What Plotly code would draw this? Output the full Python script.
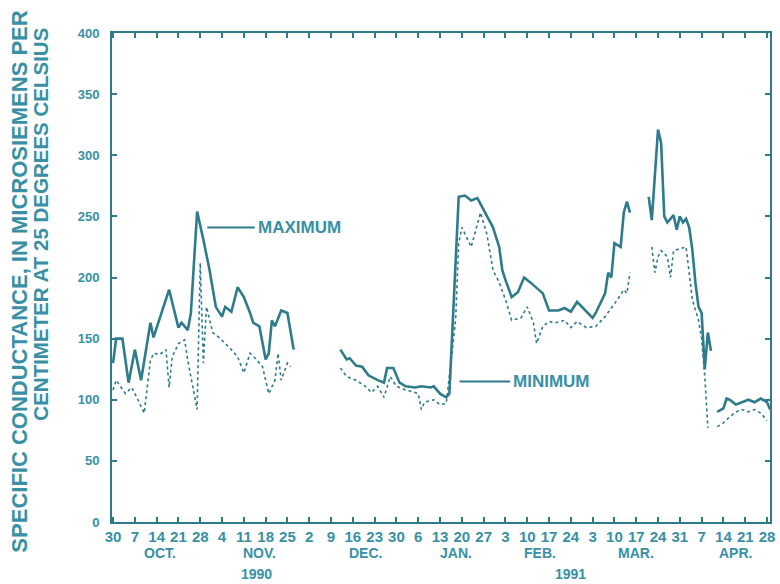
import plotly.graph_objects as go

# ---- data ----
max_dates = [
    "1990-09-30", "1990-10-01", "1990-10-03", "1990-10-05", "1990-10-07", "1990-10-09",
    "1990-10-12", "1990-10-13", "1990-10-18", "1990-10-21", "1990-10-22", "1990-10-24",
    "1990-10-25", "1990-10-27", "1990-10-29", "1990-10-31", "1990-11-02", "1990-11-04",
    "1990-11-05", "1990-11-07", "1990-11-09", "1990-11-11", "1990-11-13", "1990-11-14",
    "1990-11-16", "1990-11-18", "1990-11-19", "1990-11-20", "1990-11-21", "1990-11-23",
    "1990-11-25", "1990-11-27",
    "1990-12-05",
    "1990-12-12", "1990-12-14", "1990-12-15", "1990-12-17", "1990-12-19", "1990-12-21",
    "1990-12-24", "1990-12-26", "1990-12-27", "1990-12-29", "1990-12-31", "1991-01-02",
    "1991-01-05", "1991-01-07", "1991-01-10", "1991-01-11", "1991-01-13", "1991-01-15",
    "1991-01-16", "1991-01-18", "1991-01-19", "1991-01-21", "1991-01-23", "1991-01-25",
    "1991-01-27", "1991-01-30", "1991-02-01", "1991-02-02", "1991-02-03", "1991-02-05",
    "1991-02-07", "1991-02-09", "1991-02-11", "1991-02-15", "1991-02-17", "1991-02-20",
    "1991-02-22", "1991-02-24", "1991-02-26", "1991-03-02", "1991-03-03", "1991-03-04",
    "1991-03-06", "1991-03-07", "1991-03-08", "1991-03-09", "1991-03-10", "1991-03-12",
    "1991-03-13", "1991-03-14", "1991-03-15",
    "1991-03-18",
    "1991-03-21", "1991-03-22", "1991-03-24", "1991-03-25", "1991-03-26", "1991-03-27",
    "1991-03-29", "1991-03-30", "1991-03-31", "1991-04-01", "1991-04-02", "1991-04-03",
    "1991-04-04", "1991-04-05", "1991-04-06", "1991-04-07", "1991-04-08", "1991-04-09",
    "1991-04-10",
    "1991-04-11",
    "1991-04-12", "1991-04-14", "1991-04-15", "1991-04-16", "1991-04-18", "1991-04-20",
    "1991-04-22", "1991-04-24", "1991-04-26", "1991-04-28", "1991-04-29",
]
max_values = [
    130, 150, 150, 114, 141, 116,
    163, 151, 190, 159, 163, 157,
    171, 254, 231, 206, 176, 168,
    176, 172, 192, 184, 171, 163,
    160, 133, 138, 165, 160, 173,
    171, 141,
    None,
    141, 133, 134, 128, 127, 120,
    116, 114, 126, 126, 114, 111,
    110, 111, 110, 111, 105, 102,
    105, 206, 266, 267, 263, 265,
    255, 241, 225, 206, 198, 184,
    188, 200, 196, 187, 173, 173,
    175, 172, 180, 169, 167, 171,
    182, 187, 204, 200, 228, 225,
    253, 262, 253,
    None,
    266, 247, 321, 310, 250, 245,
    251, 239, 250, 245, 248, 241,
    223, 196, 176, 171, 125, 155,
    140,
    None,
    90, 93, 101, 100, 96, 98,
    100, 98, 101, 98, 92,
]

min_dates = [
    "1990-09-30", "1990-10-01", "1990-10-04", "1990-10-06", "1990-10-08", "1990-10-10",
    "1990-10-12", "1990-10-13", "1990-10-15", "1990-10-17", "1990-10-18", "1990-10-19",
    "1990-10-21", "1990-10-23", "1990-10-24", "1990-10-27", "1990-10-28", "1990-10-29",
    "1990-10-30", "1990-11-01", "1990-11-03", "1990-11-05", "1990-11-07", "1990-11-09",
    "1990-11-11", "1990-11-13", "1990-11-15", "1990-11-17", "1990-11-19", "1990-11-21",
    "1990-11-22", "1990-11-23", "1990-11-25", "1990-11-26",
    "1990-12-05",
    "1990-12-12", "1990-12-14", "1990-12-17", "1990-12-20", "1990-12-22", "1990-12-24",
    "1990-12-26", "1990-12-28", "1990-12-30", "1991-01-02", "1991-01-05", "1991-01-06",
    "1991-01-07", "1991-01-08", "1991-01-11", "1991-01-13", "1991-01-15", "1991-01-18",
    "1991-01-19", "1991-01-20", "1991-01-23", "1991-01-26", "1991-01-28", "1991-01-30",
    "1991-02-01", "1991-02-03", "1991-02-05", "1991-02-08", "1991-02-10", "1991-02-12",
    "1991-02-13", "1991-02-15", "1991-02-17", "1991-02-19", "1991-02-22", "1991-02-24",
    "1991-02-26", "1991-03-01", "1991-03-04", "1991-03-07", "1991-03-11", "1991-03-13",
    "1991-03-14", "1991-03-15",
    "1991-03-18",
    "1991-03-22", "1991-03-23", "1991-03-24", "1991-03-25", "1991-03-27", "1991-03-28",
    "1991-03-29", "1991-04-01", "1991-04-02", "1991-04-03", "1991-04-04", "1991-04-06",
    "1991-04-07", "1991-04-08", "1991-04-09",
    "1991-04-11",
    "1991-04-12", "1991-04-14", "1991-04-16", "1991-04-18", "1991-04-20", "1991-04-22",
    "1991-04-24", "1991-04-26", "1991-04-28",
]
min_values = [
    108, 116, 105, 110, 100, 89,
    132, 138, 137, 141, 110, 135,
    146, 149, 132, 92, 212, 130,
    176, 155, 151, 146, 141, 135,
    122, 138, 133, 127, 105, 116,
    138, 116, 130, 127,
    None,
    126, 119, 116, 111, 106, 111,
    102, 119, 111, 108, 106, 105,
    92, 98, 100, 96, 97, 165,
    228, 241, 225, 253, 236, 206,
    196, 182, 165, 167, 176, 163,
    146, 160, 164, 163, 165, 159,
    164, 159, 160, 168, 182, 190,
    187, 204,
    None,
    225, 204, 217, 222, 217, 200,
    222, 224, 225, 204, 182, 165,
    150, 120, 77,
    None,
    78, 81, 86, 90, 92, 90,
    92, 89, 83,
]

tick_dates = [
    "1990-09-30", "1990-10-07", "1990-10-14", "1990-10-21", "1990-10-28",
    "1990-11-04", "1990-11-11", "1990-11-18", "1990-11-25", "1990-12-02",
    "1990-12-09", "1990-12-16", "1990-12-23", "1990-12-30", "1991-01-06",
    "1991-01-13", "1991-01-20", "1991-01-27", "1991-02-03", "1991-02-10",
    "1991-02-17", "1991-02-24", "1991-03-03", "1991-03-10", "1991-03-17",
    "1991-03-24", "1991-03-31", "1991-04-07", "1991-04-14", "1991-04-21",
    "1991-04-28",
]
tick_text = ["30", "7", "14", "21", "28", "4", "11", "18", "25", "2", "9", "16",
             "23", "30", "6", "13", "20", "27", "3", "10", "17", "24", "3", "10",
             "17", "24", "31", "7", "14", "21", "28"]

month_labels = ["OCT.", "NOV.", "DEC.", "JAN.", "FEB.", "MAR.", "APR."]
month_label_dates = ["1990-10-15", "1990-11-16", "1990-12-20", "1991-01-18",
                     "1991-02-14", "1991-03-17", "1991-04-18"]
year_labels = ["1990", "1991"]
year_label_dates = ["1990-11-15", "1991-02-24"]

# ---- styling ----
LINE = "#2e7b8c"
TEXT = "#3890a4"
FONT = "Liberation Sans, Arial, sans-serif"

fig = go.Figure()
fig.add_trace(go.Scatter(x=max_dates, y=max_values, mode="lines",
                         line=dict(color=LINE, width=2.6), connectgaps=False,
                         name="MAXIMUM", showlegend=False))
fig.add_trace(go.Scatter(x=min_dates, y=min_values, mode="lines",
                         line=dict(color=LINE, width=1.6, dash="dot"), connectgaps=False,
                         name="MINIMUM", showlegend=False))

annotations = []
for lab, d in zip(month_labels, month_label_dates):
    annotations.append(dict(x=d, y=-0.064, xref="x", yref="paper", text=lab,
                            showarrow=False, xanchor="center", yanchor="middle",
                            font=dict(family=FONT, size=14, color=TEXT, weight="bold")))
for lab, d in zip(year_labels, year_label_dates):
    annotations.append(dict(x=d, y=-0.106, xref="x", yref="paper", text=lab,
                            showarrow=False, xanchor="center", yanchor="middle",
                            font=dict(family=FONT, size=14, color=TEXT, weight="bold")))

# series labels with leader lines
annotations.append(dict(x="1990-11-15 00:00", y=241, xref="x", yref="y", text="MAXIMUM",
                        showarrow=False, xanchor="left", yanchor="middle",
                        font=dict(family=FONT, size=17, color=TEXT, weight="bold")))
annotations.append(dict(x="1991-02-04 18:00", y=115, xref="x", yref="y", text="MINIMUM",
                        showarrow=False, xanchor="left", yanchor="middle",
                        font=dict(family=FONT, size=17, color=TEXT, weight="bold")))

# y-axis title (two lines)
annotations.append(dict(x=-0.141, y=0.492, xref="paper", yref="paper",
                        text="SPECIFIC CONDUCTANCE, IN MICROSIEMENS PER",
                        textangle=-90, showarrow=False, xanchor="center", yanchor="middle",
                        font=dict(family=FONT, size=22, color=TEXT, weight="bold")))
annotations.append(dict(x=-0.108, y=0.61, xref="paper", yref="paper",
                        text="CENTIMETER AT 25 DEGREES CELSIUS",
                        textangle=-90, showarrow=False, xanchor="center", yanchor="middle",
                        font=dict(family=FONT, size=20.5, color=TEXT, weight="bold")))

shapes = [
    dict(type="line", xref="x", yref="y", x0="1990-10-30 06:00", x1="1990-11-14 12:00",
         y0=241, y1=241, line=dict(color=LINE, width=2)),
    dict(type="line", xref="x", yref="y", x0="1991-01-19 06:00", x1="1991-02-04 12:00",
         y0=115, y1=115, line=dict(color=LINE, width=2)),
]

fig.update_layout(
    width=780, height=584,
    margin=dict(l=112, r=5, t=33, b=62),
    paper_bgcolor="white", plot_bgcolor="white",
    annotations=annotations, shapes=shapes,
    font=dict(family=FONT, color=TEXT),
)
fig.update_xaxes(
    type="date", range=["1990-09-29 16:00", "1991-04-28 23:00"],
    tickmode="array", tickvals=tick_dates, ticktext=tick_text,
    ticks="inside", ticklen=5, tickwidth=1.5, tickcolor=LINE,
    showline=True, linecolor=LINE, linewidth=2, mirror="ticks",
    showgrid=False, zeroline=False,
    tickfont=dict(family=FONT, size=15, color=TEXT, weight="bold"),
)
fig.update_yaxes(
    range=[0, 400], tickmode="linear", tick0=0, dtick=50,
    ticks="inside", ticklen=5, tickwidth=1.5, tickcolor=LINE,
    showline=True, linecolor=LINE, linewidth=2, mirror="ticks",
    showgrid=False, zeroline=False, ticklabelstandoff=8,
    tickfont=dict(family=FONT, size=13, color=TEXT, weight="bold"),
)

fig.write_html("out.html", config={"displayModeBar": False},
               post_script="document.body.style.margin='0';")
